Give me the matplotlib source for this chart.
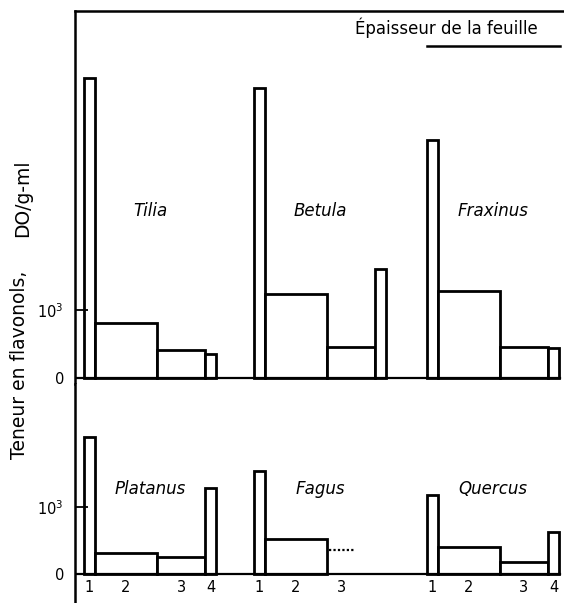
import matplotlib
matplotlib.use("Agg")
import matplotlib.pyplot as plt
from matplotlib.lines import Line2D

# donnees : teneur en flavonols par classe d'epaisseur 1..4
especes_haut = ["Tilia", "Betula", "Fraxinus"]
valeurs_haut = [
    [4410, 810, 410, 350],
    [4260, 1240, 460, 1600],
    [3500, 1280, 460, 440],
]
especes_bas = ["Platanus", "Fagus", "Quercus"]
valeurs_bas = [
    [2040, 310, 250, 1280],
    [1540, 520, None, None],
    [1180, 400, 180, 620],
]
fagus_classe3 = 360  # trace en pointilles
classes = ["1", "2", "3", "4"]
yticks = [0, 1000]
yticklabels = ["0", "$10^3$"]

# mise en page (pixels de la figure)
W, H = 564, 603
largeurs = [11, 62, 48, 11]
debuts = [9, 179, 352]
lw = 2.0

fig = plt.figure(figsize=(W / 100, H / 100), dpi=100)
plt.rcParams["font.family"] = ["DejaVu Sans"]


def panneau(y_haut, y_bas, y_zero, px_par_mille):
    ax = fig.add_axes([75 / W, 1 - y_bas / H, 489 / W, (y_bas - y_haut) / H])
    ymin = -(y_bas - y_zero) / px_par_mille * 1000
    ymax = (y_zero - y_haut) / px_par_mille * 1000
    ax.set_xlim(0, 489)
    ax.set_ylim(ymin, ymax)
    ax.set_axisbelow(False)
    for s in ["right", "bottom"]:
        ax.spines[s].set_visible(False)
    ax.spines["left"].set_linewidth(1.8)
    ax.spines["top"].set_linewidth(1.8)
    ax.set_xticks([])
    ax.set_yticks(yticks)
    ax.set_yticklabels(yticklabels, fontsize=10.5)
    ax.tick_params(axis="y", direction="in", length=9.5, width=1.3, pad=8)
    ax.axhline(0, xmin=0, xmax=485 / 489, color="black", lw=1.6, zorder=3)
    return ax


def groupe(ax, x0, vals, nom, y_nom, decalage_lbl):
    lefts = []
    x = x0
    for w in largeurs:
        lefts.append(x)
        x += w
    for i, v in enumerate(vals):
        if v is None:
            continue
        ax.bar(lefts[i], v, width=largeurs[i], align="edge", color="white",
               edgecolor="black", linewidth=lw, zorder=1)
        ax.annotate(classes[i], (lefts[i] + largeurs[i] / 2, 0), xytext=(0, decalage_lbl),
                    textcoords="offset points", ha="center", va="center", fontsize=10.5)
    ax.text(x0 + 66, y_nom, nom, style="italic", fontsize=12, ha="center", va="center")
    return lefts


ax1 = panneau(11, 384, 378, 68)
ax1.spines["top"].set_bounds(0, 489)
for x0, vals, nom in zip(debuts, valeurs_haut, especes_haut):
    groupe(ax1, x0, vals, nom, 2450, -11.5)

ax2 = panneau(384, 603, 574, 67)
ax2.spines["top"].set_visible(False)
for x0, vals, nom in zip(debuts, valeurs_bas, especes_bas):
    lefts = groupe(ax2, x0, vals, nom, 1270, -9.5)
    if nom == "Fagus":
        xa = lefts[2] + 2
        xb = lefts[2] + 28
        ax2.plot([xa, xb], [fagus_classe3, fagus_classe3], color="black", lw=1.6,
                 linestyle=(0, (1, 1)))
        ax2.annotate(classes[2], ((xa + xb) / 2, 0), xytext=(0, -9.5),
                     textcoords="offset points", ha="center", va="center", fontsize=10.5)

# legende epaisseur
fig.text(446 / W, 1 - 28 / H, "Épaisseur de la feuille", fontsize=12, ha="center", va="center")
fig.add_artist(Line2D([427 / W, 560 / W], [1 - 46 / H, 1 - 46 / H], color="black", lw=1.8))

# titre de l'axe y
fig.text(20 / W, 1 - 365 / H, "Teneur en flavonols,", rotation=90, fontsize=13.5,
         ha="center", va="center")
fig.text(23 / W, 1 - 198 / H, "DO/g-ml", rotation=90, fontsize=13.5, ha="center", va="center")

fig.savefig("out.png", dpi=100)
